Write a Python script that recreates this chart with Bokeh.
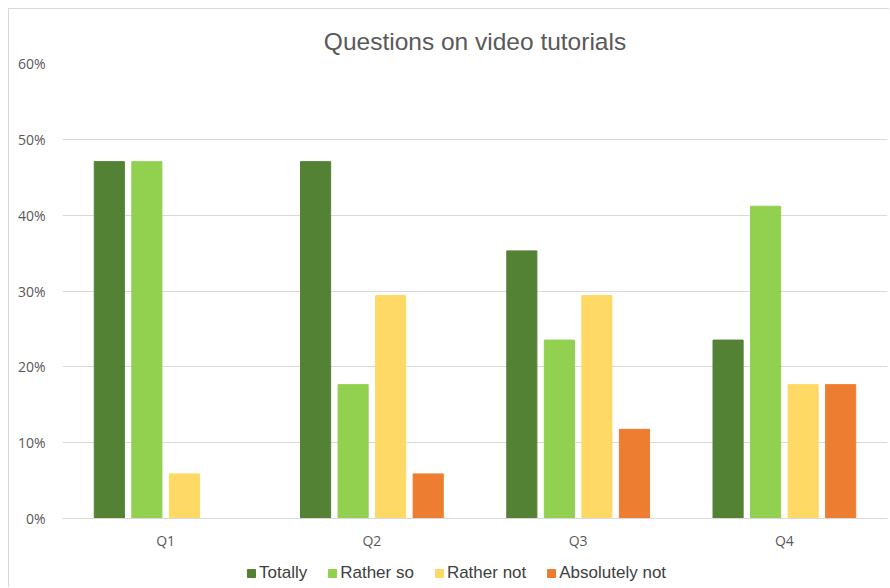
from bokeh.plotting import figure
from bokeh.layouts import column
from bokeh.models import ColumnDataSource, NumeralTickFormatter, FixedTicker, Range1d, Legend, LegendItem
from bokeh.transform import dodge
from bokeh.embed import file_html
from bokeh.resources import INLINE

# Survey answers per question, as shares of respondents
questions = ["Q1", "Q2", "Q3", "Q4"]
totally = [0.4706, 0.4706, 0.3529, 0.2353]
rather_so = [0.4706, 0.1765, 0.2353, 0.4118]
rather_not = [0.0588, 0.2941, 0.2941, 0.1765]
absolutely_not = [0.0, 0.0588, 0.1176, 0.1765]

series_names = ["Totally", "Rather so", "Rather not", "Absolutely not"]
series_cols = ["totally", "rather_so", "rather_not", "absolutely_not"]
series_colors = ["#548235", "#92D050", "#FFD966", "#ED7D31"]
y_ticks = [0.0, 0.1, 0.2, 0.3, 0.4, 0.5, 0.6]

source = ColumnDataSource(data=dict(
    q=questions,
    totally=totally,
    rather_so=rather_so,
    rather_not=rather_not,
    absolutely_not=absolutely_not,
))

p = figure(
    x_range=questions,
    y_range=Range1d(0, 0.6),
    width=881,
    height=546,
    output_backend="svg",
    toolbar_location=None,
    title="Questions on video tutorials",
    min_border_left=53,
    min_border_right=3,
    min_border_top=54,
    min_border_bottom=37,
)
p.margin = (8, 0, 0, 8)
p.styles = {"border-top": "1px solid #d9d9d9", "border-left": "1px solid #d9d9d9"}

bar_w = 0.146
step = 0.182
offsets = [-1.5 * step, -0.5 * step, 0.5 * step, 1.5 * step]
for col, color, off in zip(series_cols, series_colors, offsets):
    p.vbar(x=dodge("q", off, range=p.x_range), top=col, width=bar_w,
           source=source, color=color)

# Title
p.title.align = "center"
p.title.text_font = "Liberation Sans"
p.title.text_font_size = "24.5px"
p.title.text_font_style = "normal"
p.title.text_color = "#595959"
p.title.standoff = 18

# Frame and grid
p.outline_line_color = None
p.background_fill_color = "white"
p.border_fill_color = "white"
p.xgrid.grid_line_color = None
p.ygrid.grid_line_color = "#d9d9d9"
p.ygrid.grid_line_width = 1

# Y axis
p.yaxis.ticker = FixedTicker(ticks=y_ticks)
p.yaxis.formatter = NumeralTickFormatter(format="0%")
p.yaxis.axis_line_color = None
p.yaxis.major_tick_line_color = None
p.yaxis.minor_tick_line_color = None
p.yaxis.major_label_text_font = "Open Sans"
p.yaxis.major_label_text_font_size = "14px"
p.yaxis.major_label_text_color = "#595959"
p.yaxis.major_label_standoff = 11

# X axis
p.xaxis.axis_line_color = "#d9d9d9"
p.xaxis.major_tick_line_color = None
p.xaxis.minor_tick_line_color = None
p.xaxis.major_label_text_font = "Open Sans"
p.xaxis.major_label_text_font_size = "14px"
p.xaxis.major_label_text_color = "#595959"
p.xaxis.major_label_standoff = 6

# Legend strip under the chart; its swatch renderers sit outside the visible range
lg = figure(
    width=881,
    height=33,
    output_backend="svg",
    toolbar_location=None,
    x_range=Range1d(0, 1),
    y_range=Range1d(0, 1),
    min_border_left=53,
    min_border_right=3,
    min_border_top=0,
    min_border_bottom=0,
)
lg.margin = (0, 0, 0, 8)
lg.styles = {"border-left": "1px solid #d9d9d9"}
lg.axis.visible = False
lg.grid.grid_line_color = None
lg.outline_line_color = None
lg.background_fill_color = "white"
lg.border_fill_color = "white"

swatch = ColumnDataSource(data=dict(x=[-10.0], top=[-10.0]))
items = []
for name, color in zip(series_names, series_colors):
    r = lg.vbar(x="x", top="top", bottom=-11.0, width=0.1, source=swatch, color=color)
    items.append(LegendItem(label=name, renderers=[r]))

legend = Legend(
    items=items,
    orientation="horizontal",
    location=(184, 4),
    border_line_color=None,
    background_fill_alpha=0,
    label_text_font="Liberation Sans",
    label_text_font_size="17px",
    label_text_color="#404040",
    glyph_width=10,
    glyph_height=10,
    label_standoff=3,
    spacing=20,
    padding=2,
    margin=0,
)
lg.add_layout(legend)

layout = column(p, lg, spacing=0)
open("out.html", "w").write(file_html(layout, INLINE))
